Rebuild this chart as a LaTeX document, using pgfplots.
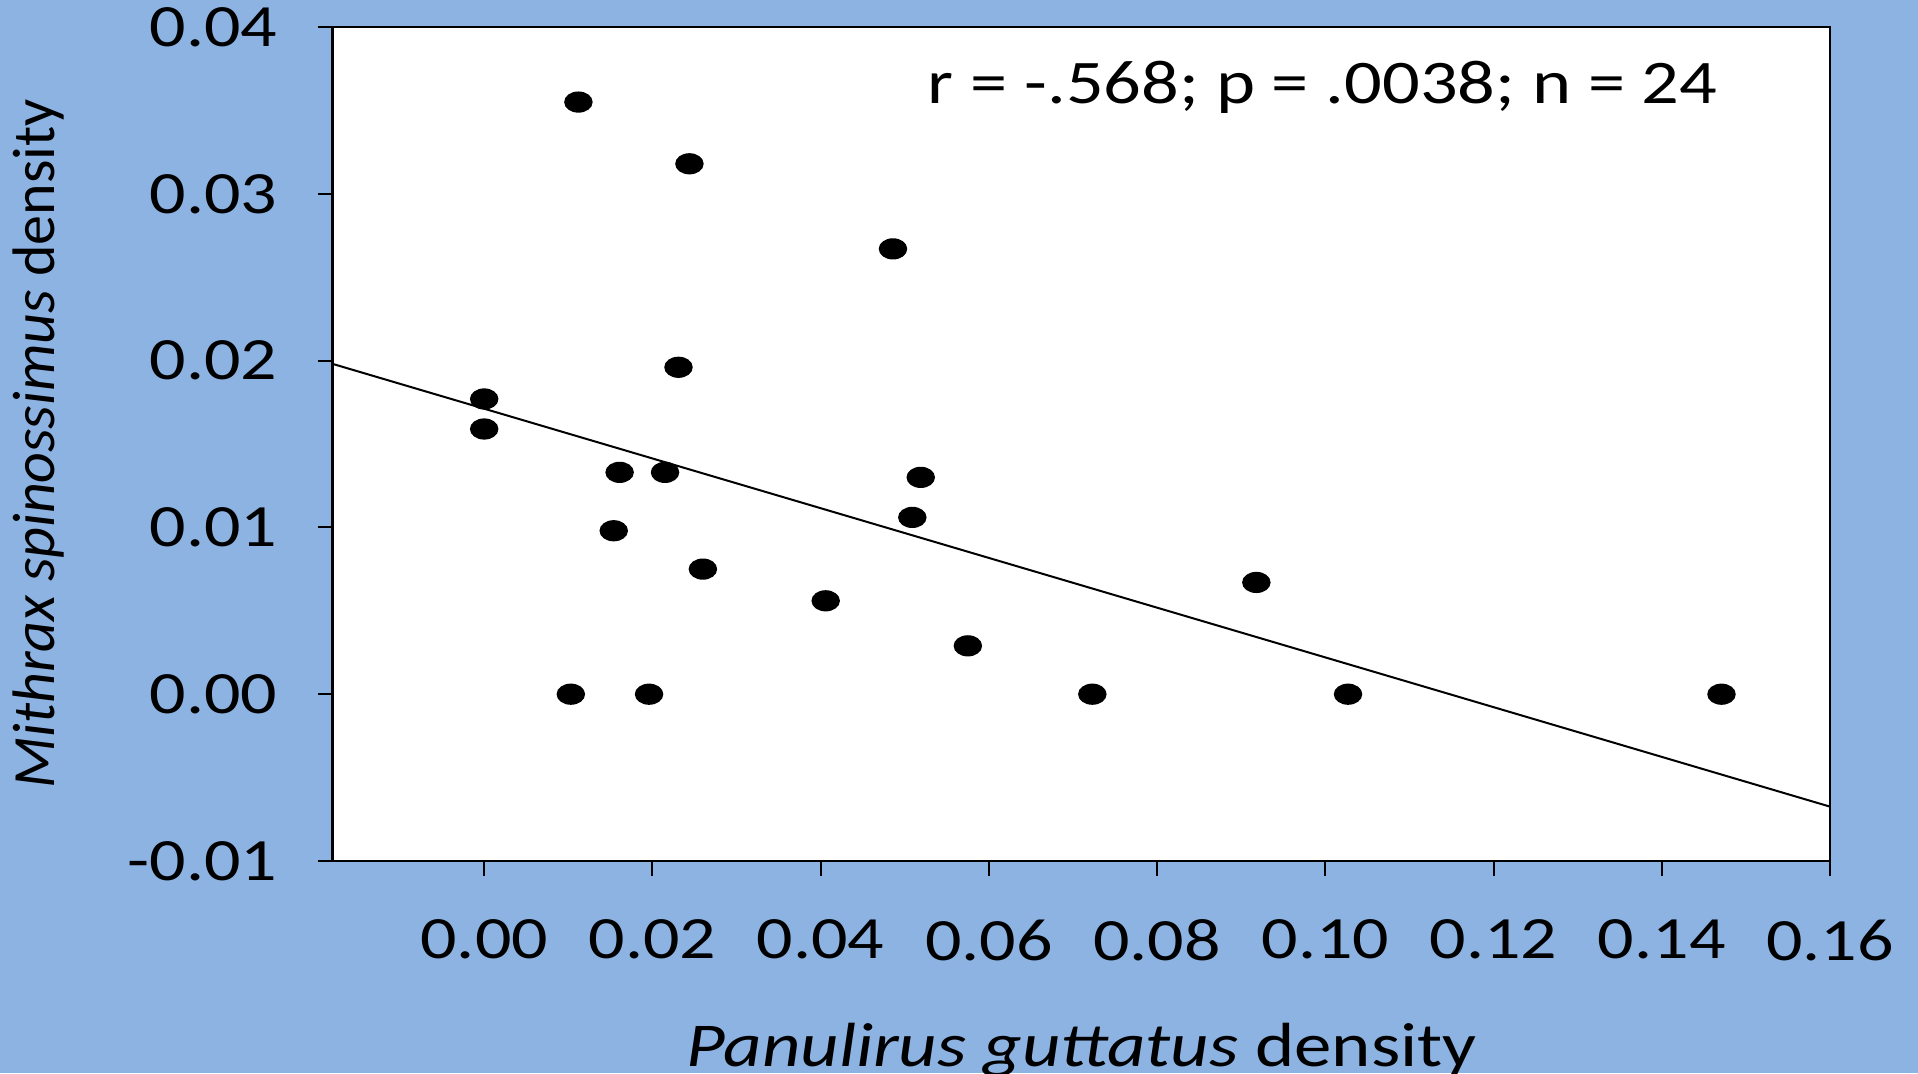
\documentclass[border=0pt]{standalone}
\usepackage{pgfplots}
\pgfplotsset{compat=1.18}
\usepackage{fontspec}
\setmainfont{Carlito}[FakeStretch=1.2]
\newfontfamily\plainfont{Carlito}
\definecolor{bgblue}{HTML}{8DB3E2}

\begin{document}
\fontsize{15}{18}\selectfont
\begin{tikzpicture}
\useasboundingbox (0,0) rectangle (479.5pt,268.25pt);
\fill[bgblue] (0,0) rectangle (479.5pt,268.25pt);
\begin{axis}[
    at={(83.2pt,53pt)}, anchor=south west,
    scale only axis,
    width=374.3pt, height=208.5pt,
    xmin=-0.018, xmax=0.16,
    ymin=-0.01, ymax=0.04,
    xtick={0,0.02,0.04,0.06,0.08,0.10,0.12,0.14,0.16},
    ytick={-0.01,0,0.01,0.02,0.03,0.04},
    scaled ticks=false,
    xtick pos=bottom, ytick pos=left,
    tick align=outside,
    major tick length=3.7pt,
    axis background/.style={fill=white},
    axis line style={line width=0.7pt},
    every tick/.style={black, line width=0.5pt},
    /pgf/number format/assume math mode=true,
    /pgf/number format/.cd, fixed, fixed zerofill, precision=2,
    /pgfplots/.cd,
    ticklabel style={font=\fontsize{15}{18}\selectfont},
    xticklabel style={yshift=-5.8pt},
    yticklabel style={xshift=-5pt},
    xlabel={\textit{Panulirus guttatus} density},
    ylabel={\textit{Mithrax spinossimus} density},
    xlabel style={at={(axis description cs:0.5,-0.246)}, anchor=base, font=\fontsize{15.6}{19}\selectfont},
    ylabel style={at={(axis description cs:-0.1856,0.5)}, anchor=base, rotate=0, font=\plainfont\fontsize{15}{18}\selectfont},
]
% regression line
\addplot[black, line width=0.5pt] coordinates {(-0.018,0.0198) (0.16,-0.00674)};
% observations
\addplot[only marks, mark=*, mark size=2.45pt, mark options={xscale=1.37, fill=black, draw=black}] coordinates {
    (0.0112,0.0355)
    (0.0244,0.0318)
    (0.0486,0.0267)
    (0.0231,0.0196)
    (0.0000,0.0177)
    (0.0000,0.0159)
    (0.0161,0.0133)
    (0.0215,0.0133)
    (0.0519,0.0130)
    (0.0509,0.0106)
    (0.0154,0.0098)
    (0.0260,0.0075)
    (0.0406,0.0056)
    (0.0575,0.0029)
    (0.0918,0.0067)
    (0.0103,0.0000)
    (0.0196,0.0000)
    (0.0723,0.0000)
    (0.1027,0.0000)
    (0.1471,0.0000)
};
\node[anchor=base west, inner sep=0pt, font=\fontsize{15.5}{18}\selectfont] at (axis description cs:0.397,0.9077) {r = -.568; p = .0038; n = 24};
\end{axis}
\end{tikzpicture}
\end{document}
